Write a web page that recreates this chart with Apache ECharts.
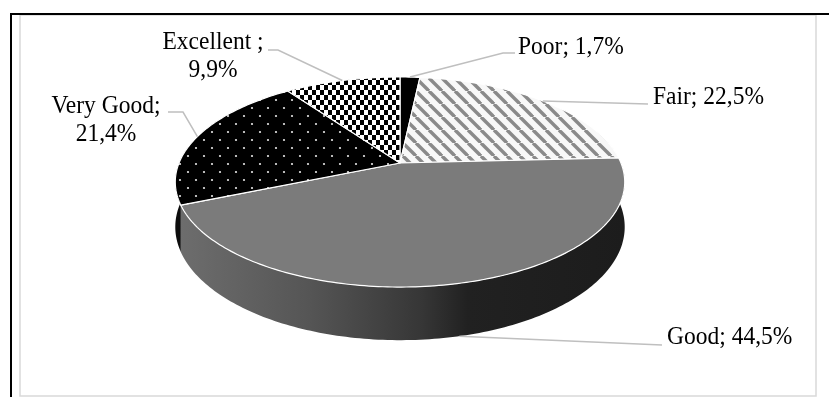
<!DOCTYPE html>
<html>
<head>
<meta charset="utf-8">
<script src="https://cdn.jsdelivr.net/npm/echarts@6/dist/echarts.min.js"></script>
<style>
html, body { margin: 0; padding: 0; background: #fff; }
#main { width: 829px; height: 397px; }
</style>
</head>
<body>
<div id="main"></div>
<script>
// data
var categories = ['Poor', 'Fair', 'Good', 'Very Good', 'Excellent '];
var shares = [1.7, 22.5, 44.5, 21.4, 9.9];
// which labels break after the ";"
var wrapLabel = [false, false, false, true, true];

// 3d pie geometry (perspective ellipse)
var pie = { cx: 400, cy: 163, a: 221, b: 101.6, k: 0.181, t: 43.5 };

function proj(deg, down) {
    var r = deg * Math.PI / 180;
    var u = Math.sin(r), v = Math.cos(r), w = 1 + pie.k * v;
    return [pie.cx + pie.a * u / w, pie.cy - pie.b * v / w + (down ? pie.t / w : 0)];
}
function arc(d0, d1, down) {
    var pts = [];
    var n = Math.max(2, Math.ceil(Math.abs(d1 - d0)));
    for (var i = 0; i <= n; i++) {
        pts.push(proj(d0 + (d1 - d0) * i / n, down));
    }
    return pts;
}

var total = shares.reduce(function (s, v) { return s + v; }, 0);
var startDeg = [];
var acc = 0;
for (var i = 0; i < shares.length; i++) {
    startDeg.push(acc / total * 360);
    acc += shares[i];
}
function endDeg(i) { return startDeg[i] + shares[i] / total * 360; }

// fill patterns
function makePattern(w, h, draw) {
    var c = document.createElement('canvas');
    c.width = w; c.height = h;
    draw(c.getContext('2d'));
    return { image: c, repeat: 'repeat' };
}
var stripes = makePattern(13, 13, function (g) {
    g.fillStyle = '#f8f8f8'; g.fillRect(0, 0, 13, 13);
    g.strokeStyle = '#8a8a8a'; g.lineWidth = 3.4;
    [-13, 0, 13].forEach(function (x) {
        g.beginPath(); g.moveTo(x, 0); g.lineTo(x + 13, 13); g.stroke();
    });
});
var checker = makePattern(8, 10, function (g) {
    g.fillStyle = '#fff'; g.fillRect(0, 0, 8, 10);
    g.fillStyle = '#000'; g.fillRect(0, 0, 4, 5); g.fillRect(4, 5, 4, 5);
});
var dots = makePattern(16, 16, function (g) {
    g.fillStyle = '#000'; g.fillRect(0, 0, 16, 16);
    g.fillStyle = '#e6e6e6';
    g.beginPath(); g.arc(4, 4, 1.1, 0, Math.PI * 2); g.fill();
    g.beginPath(); g.arc(12, 12, 1.1, 0, Math.PI * 2); g.fill();
});
var topFill = ['#000', stripes, '#7b7b7b', dots, checker];
var wallFill = ['#000', '#d0d0d0', {
    type: 'linear', x: 175, y: 0, x2: 625, y2: 0, global: true,
    colorStops: [
        { offset: 0, color: '#6e6e6e' },
        { offset: 0.3, color: '#555555' },
        { offset: 0.55, color: '#363636' },
        { offset: 0.65, color: '#212121' },
        { offset: 1, color: '#1c1c1c' }
    ]
}, '#0d0d0d', '#000'];

// label placement (leader line bends / text anchor)
var labelLayout = [
    { pts: [[503, 53], [515, 53]], x: 518, y: 47, align: 'left' },
    { pts: [[648, 104]], x: 653, y: 97, align: 'left' },
    { pts: [[662, 345]], x: 667, y: 337, align: 'left', fromBottom: true },
    { pts: [[183, 112], [168, 112]], x: 106, y: 120, align: 'center' },
    { pts: [[278, 50], [268, 50]], x: 213, y: 56, align: 'center' }
];
var labelFont = '23.5px "Liberation Serif", "Times New Roman", serif';

function labelText(i) {
    var pct = String(shares[i]).replace('.', ',') + '%';
    return categories[i] + ';' + (wrapLabel[i] ? '\n' : ' ') + pct;
}

var seriesData = categories.map(function (c, i) { return { name: c, value: shares[i] }; });

var chart = echarts.init(document.getElementById('main'));
var option = {
    backgroundColor: '#fff',
    animation: false,
    graphic: [
        { type: 'rect', shape: { x: 20, y: 15, width: 796, height: 381 },
          style: { fill: 'none', stroke: '#d9d9d9', lineWidth: 1.5 }, z: 0 },
        { type: 'line', shape: { x1: 11, y1: 14, x2: 829, y2: 14 },
          style: { stroke: '#000', lineWidth: 2 }, z: 1 },
        { type: 'line', shape: { x1: 11, y1: 13, x2: 11, y2: 397 },
          style: { stroke: '#000', lineWidth: 2 }, z: 1 }
    ],
    series: [
        {
            type: 'custom', name: 'wall', coordinateSystem: 'none', z: 2,
            data: seriesData,
            renderItem: function (params) {
                var i = params.dataIndex;
                var d0 = Math.max(startDeg[i], 80), d1 = Math.min(endDeg(i), 280);
                if (d1 <= d0) return { type: 'group', children: [] };
                var pts = arc(d0, d1, false).concat(arc(d1, d0, true));
                return { type: 'polygon', shape: { points: pts },
                         style: { fill: wallFill[i], stroke: null } };
            }
        },
        {
            type: 'custom', name: 'top', coordinateSystem: 'none', z: 3,
            data: seriesData,
            renderItem: function (params) {
                var i = params.dataIndex;
                var pts = [[pie.cx, pie.cy]].concat(arc(startDeg[i], endDeg(i), false));
                return { type: 'polygon', shape: { points: pts },
                         style: { fill: topFill[i], stroke: '#fff', lineWidth: 1.2, lineJoin: 'round' } };
            }
        },
        {
            type: 'custom', name: 'labels', coordinateSystem: 'none', z: 4,
            data: seriesData,
            renderItem: function (params) {
                var i = params.dataIndex;
                var lay = labelLayout[i];
                var mid = (startDeg[i] + endDeg(i)) / 2;
                var line = [proj(mid, !!lay.fromBottom)].concat(lay.pts);
                return {
                    type: 'group',
                    children: [
                        { type: 'polyline', shape: { points: line },
                          style: { fill: null, stroke: '#bfbfbf', lineWidth: 1.5 } },
                        { type: 'text', x: lay.x, y: lay.y, scaleY: 1.08,
                          style: { text: labelText(i), fill: '#000', font: labelFont,
                                   align: lay.align, verticalAlign: 'middle', lineHeight: 26 } }
                    ]
                };
            }
        }
    ]
};
chart.setOption(option);
</script>
</body>
</html>
